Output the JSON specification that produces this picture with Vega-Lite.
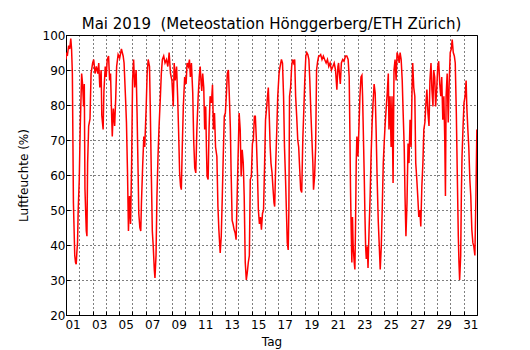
{
  "$schema": "https://vega.github.io/schema/vega-lite/v6.json",
  "width": 411,
  "height": 280,
  "autosize": "none",
  "padding": {"left": 66, "top": 35, "right": 53, "bottom": 35},
  "background": "white",
  "title": {"text": "Mai 2019 \u00a0(Meteostation Hönggerberg/ETH Zürich)", "fontSize": 15, "font": "DejaVu Sans", "fontWeight": "normal", "color": "black", "offset": -3, "anchor": "middle"},
  "config": {
    "view": {"stroke": "black", "strokeWidth": 1},
    "font": "DejaVu Sans",
    "axis": {"labelFont": "DejaVu Sans", "titleFont": "DejaVu Sans", "labelFontSize": 12, "titleFontSize": 12, "titleFontWeight": "normal", "labelColor": "black", "titleColor": "black", "domainColor": "black", "tickColor": "black", "gridColor": "black", "gridDash": [1, 3], "gridOpacity": 1, "gridWidth": 1}
  },
  "data": {"values": [
    {"d":1.00,"h":93},{"d":1.05,"h":95},{"d":1.10,"h":94},{"d":1.20,"h":97},{"d":1.28,"h":96},{"d":1.36,"h":99},{"d":1.42,"h":96},{"d":1.48,"h":89},{"d":1.56,"h":52},{"d":1.66,"h":37},{"d":1.72,"h":35},{"d":1.77,"h":34.5},{"d":1.82,"h":38},{"d":1.87,"h":40.6},{"d":1.92,"h":50},
    {"d":2.00,"h":58.7},{"d":2.07,"h":73},{"d":2.18,"h":89},{"d":2.25,"h":86},{"d":2.33,"h":79.6},{"d":2.38,"h":86},{"d":2.43,"h":56},{"d":2.53,"h":44},{"d":2.58,"h":42.5},{"d":2.63,"h":63.4},{"d":2.71,"h":74},{"d":2.81,"h":76},{"d":2.89,"h":89},
    {"d":3.01,"h":92},{"d":3.09,"h":93},{"d":3.19,"h":89},{"d":3.29,"h":91},{"d":3.40,"h":89},{"d":3.47,"h":92},{"d":3.55,"h":85},{"d":3.65,"h":90},{"d":3.70,"h":77},{"d":3.80,"h":73},{"d":3.86,"h":84},{"d":3.96,"h":91},
    {"d":4.03,"h":88},{"d":4.11,"h":93},{"d":4.21,"h":94},{"d":4.29,"h":87},{"d":4.36,"h":89},{"d":4.42,"h":80},{"d":4.49,"h":71},{"d":4.57,"h":79},{"d":4.67,"h":74},{"d":4.75,"h":82},{"d":4.82,"h":91},{"d":4.93,"h":94.4},
    {"d":5.05,"h":93.4},{"d":5.18,"h":96},{"d":5.31,"h":94},{"d":5.38,"h":92},{"d":5.49,"h":82},{"d":5.56,"h":75},{"d":5.64,"h":60.6},{"d":5.71,"h":44},{"d":5.79,"h":54},{"d":5.87,"h":46},{"d":5.95,"h":63.4},
    {"d":6.02,"h":87},{"d":6.10,"h":93},{"d":6.18,"h":85},{"d":6.29,"h":90},{"d":6.36,"h":77.7},{"d":6.44,"h":60.6},{"d":6.49,"h":49},{"d":6.57,"h":45},{"d":6.64,"h":44},{"d":6.69,"h":52},{"d":6.79,"h":63.4},{"d":6.87,"h":71},{"d":6.94,"h":68},
    {"d":7.05,"h":79.6},{"d":7.12,"h":89},{"d":7.20,"h":93},{"d":7.30,"h":91},{"d":7.35,"h":80.6},{"d":7.43,"h":61.5},{"d":7.51,"h":44},{"d":7.58,"h":39.6},{"d":7.66,"h":33},{"d":7.71,"h":30.6},{"d":7.79,"h":37},{"d":7.86,"h":54},{"d":7.94,"h":65.3},
    {"d":8.01,"h":73},{"d":8.12,"h":82.5},{"d":8.19,"h":89},{"d":8.27,"h":93},{"d":8.37,"h":94},{"d":8.47,"h":92},{"d":8.58,"h":93},{"d":8.68,"h":91},{"d":8.78,"h":95},{"d":8.88,"h":89},{"d":8.99,"h":87},
    {"d":9.09,"h":79.6},{"d":9.16,"h":92},{"d":9.24,"h":87},{"d":9.34,"h":91},{"d":9.42,"h":82.5},{"d":9.49,"h":73},{"d":9.57,"h":60.6},{"d":9.64,"h":56.8},{"d":9.70,"h":55.8},{"d":9.77,"h":68},{"d":9.85,"h":79.6},{"d":9.95,"h":88},
    {"d":10.06,"h":86},{"d":10.13,"h":92},{"d":10.23,"h":91},{"d":10.31,"h":93},{"d":10.38,"h":88},{"d":10.46,"h":92},{"d":10.56,"h":83.4},{"d":10.63,"h":70},{"d":10.71,"h":62},{"d":10.79,"h":60.6},{"d":10.87,"h":73},{"d":10.97,"h":82.5},
    {"d":11.05,"h":88},{"d":11.12,"h":91},{"d":11.18,"h":87},{"d":11.24,"h":84},{"d":11.31,"h":89},{"d":11.39,"h":85},{"d":11.46,"h":73},{"d":11.54,"h":79.6},{"d":11.59,"h":68},{"d":11.64,"h":59.6},{"d":11.72,"h":58.7},{"d":11.79,"h":73},{"d":11.87,"h":82.5},{"d":11.97,"h":80.6},
    {"d":12.05,"h":85.8},{"d":12.12,"h":73},{"d":12.20,"h":77.7},{"d":12.28,"h":68},{"d":12.38,"h":65.3},{"d":12.46,"h":51},{"d":12.53,"h":44.4},{"d":12.63,"h":37.7},{"d":12.71,"h":42.5},{"d":12.79,"h":54},{"d":12.86,"h":65.3},{"d":12.94,"h":76.8},
    {"d":13.02,"h":77.7},{"d":13.09,"h":82.5},{"d":13.17,"h":89},{"d":13.25,"h":90},{"d":13.32,"h":82.5},{"d":13.40,"h":73},{"d":13.45,"h":61.5},{"d":13.53,"h":47},{"d":13.60,"h":46},{"d":13.68,"h":44.4},{"d":13.76,"h":43.4},{"d":13.83,"h":41.5},{"d":13.91,"h":54},{"d":13.98,"h":65.3},
    {"d":14.06,"h":77.7},{"d":14.14,"h":73},{"d":14.21,"h":59.6},{"d":14.29,"h":67.2},{"d":14.37,"h":63.4},{"d":14.44,"h":54},{"d":14.52,"h":35},{"d":14.60,"h":30},{"d":14.67,"h":32},{"d":14.75,"h":35},{"d":14.83,"h":37},{"d":14.90,"h":58.7},{"d":14.98,"h":59.6},
    {"d":15.06,"h":69},{"d":15.13,"h":70},{"d":15.21,"h":76.8},{"d":15.28,"h":76.8},{"d":15.36,"h":70},{"d":15.44,"h":60.6},{"d":15.51,"h":50},{"d":15.59,"h":46},{"d":15.67,"h":48},{"d":15.74,"h":44.4},{"d":15.82,"h":49},{"d":15.90,"h":50},{"d":15.97,"h":61.5},
    {"d":16.05,"h":75.8},{"d":16.12,"h":78.7},{"d":16.20,"h":82.5},{"d":16.26,"h":85},{"d":16.33,"h":77},{"d":16.40,"h":68},{"d":16.46,"h":63.4},{"d":16.54,"h":60.6},{"d":16.62,"h":55.8},{"d":16.69,"h":52},{"d":16.74,"h":51},{"d":16.82,"h":63.4},{"d":16.90,"h":73},{"d":16.97,"h":82.5},
    {"d":17.07,"h":89},{"d":17.15,"h":91},{"d":17.25,"h":93},{"d":17.33,"h":92},{"d":17.41,"h":82.5},{"d":17.48,"h":68},{"d":17.56,"h":58.7},{"d":17.63,"h":49},{"d":17.69,"h":40.6},{"d":17.76,"h":38.6},{"d":17.81,"h":50},{"d":17.86,"h":82.5},{"d":17.94,"h":85},
    {"d":18.02,"h":91},{"d":18.09,"h":93},{"d":18.17,"h":92},{"d":18.25,"h":93},{"d":18.32,"h":82.5},{"d":18.40,"h":76.8},{"d":18.48,"h":70},{"d":18.55,"h":68},{"d":18.63,"h":61.5},{"d":18.70,"h":55.8},{"d":18.78,"h":55},{"d":18.86,"h":70},{"d":18.93,"h":77.7},
    {"d":19.01,"h":87},{"d":19.09,"h":94},{"d":19.16,"h":95},{"d":19.24,"h":94.4},{"d":19.32,"h":93},{"d":19.39,"h":87},{"d":19.47,"h":77.7},{"d":19.55,"h":70},{"d":19.62,"h":63.4},{"d":19.67,"h":55.8},{"d":19.75,"h":59.6},{"d":19.83,"h":68},{"d":19.90,"h":90},{"d":19.98,"h":92.5},
    {"d":20.06,"h":94},{"d":20.13,"h":94},{"d":20.21,"h":94.4},{"d":20.31,"h":93},{"d":20.41,"h":94},{"d":20.51,"h":93},{"d":20.62,"h":92},{"d":20.72,"h":93},{"d":20.82,"h":91},{"d":20.92,"h":92},
    {"d":21.02,"h":90},{"d":21.13,"h":91},{"d":21.23,"h":92},{"d":21.33,"h":90},{"d":21.43,"h":84.4},{"d":21.51,"h":91},{"d":21.56,"h":92},{"d":21.62,"h":89},{"d":21.69,"h":86},{"d":21.77,"h":92},{"d":21.87,"h":93},{"d":21.97,"h":92.5},
    {"d":22.08,"h":94},{"d":22.18,"h":94},{"d":22.28,"h":93},{"d":22.36,"h":88},{"d":22.41,"h":73},{"d":22.46,"h":55.8},{"d":22.51,"h":44.4},{"d":22.56,"h":35},{"d":22.61,"h":48},{"d":22.66,"h":39.6},{"d":22.74,"h":35},{"d":22.79,"h":33},{"d":22.84,"h":46},{"d":22.89,"h":63.4},{"d":22.94,"h":71},
    {"d":23.02,"h":65.3},{"d":23.09,"h":73},{"d":23.17,"h":82.5},{"d":23.25,"h":88},{"d":23.32,"h":88.5},{"d":23.37,"h":82.5},{"d":23.45,"h":68},{"d":23.50,"h":58.7},{"d":23.55,"h":48},{"d":23.60,"h":39.6},{"d":23.65,"h":36},{"d":23.73,"h":39.6},{"d":23.78,"h":33.4},{"d":23.86,"h":44.4},{"d":23.94,"h":54},
    {"d":24.01,"h":65.3},{"d":24.09,"h":75},{"d":24.16,"h":80.6},{"d":24.24,"h":86},{"d":24.32,"h":83.4},{"d":24.39,"h":73},{"d":24.47,"h":58.7},{"d":24.55,"h":47},{"d":24.62,"h":40.6},{"d":24.70,"h":33},{"d":24.78,"h":39.6},{"d":24.85,"h":50},{"d":24.93,"h":63.4},
    {"d":25.01,"h":70},{"d":25.08,"h":75},{"d":25.16,"h":79.6},{"d":25.23,"h":83.4},{"d":25.31,"h":89},{"d":25.36,"h":73},{"d":25.44,"h":82.5},{"d":25.52,"h":68},{"d":25.59,"h":82.5},{"d":25.67,"h":57.7},{"d":25.74,"h":90},{"d":25.82,"h":93},{"d":25.90,"h":87},{"d":25.97,"h":95},
    {"d":26.05,"h":94},{"d":26.13,"h":92},{"d":26.20,"h":95},{"d":26.28,"h":93},{"d":26.36,"h":87},{"d":26.43,"h":77.7},{"d":26.51,"h":68},{"d":26.57,"h":54},{"d":26.64,"h":42.5},{"d":26.72,"h":52},{"d":26.80,"h":69},{"d":26.87,"h":63.4},{"d":26.95,"h":75.8},
    {"d":27.03,"h":68},{"d":27.10,"h":84.4},{"d":27.15,"h":92},{"d":27.23,"h":85},{"d":27.31,"h":82.5},{"d":27.38,"h":63.4},{"d":27.46,"h":58.7},{"d":27.53,"h":54},{"d":27.61,"h":48},{"d":27.69,"h":50},{"d":27.76,"h":45.3},{"d":27.84,"h":56.8},{"d":27.92,"h":63.4},{"d":27.99,"h":73},
    {"d":28.07,"h":75},{"d":28.15,"h":80.6},{"d":28.22,"h":84.4},{"d":28.30,"h":77.7},{"d":28.38,"h":74},{"d":28.45,"h":87},{"d":28.53,"h":92},{"d":28.60,"h":84.4},{"d":28.68,"h":79.6},{"d":28.73,"h":90},{"d":28.81,"h":88},{"d":28.88,"h":79.6},{"d":28.96,"h":84.4},
    {"d":29.04,"h":91},{"d":29.11,"h":92.5},{"d":29.19,"h":86},{"d":29.27,"h":82.5},{"d":29.34,"h":88},{"d":29.42,"h":75.8},{"d":29.50,"h":82.5},{"d":29.57,"h":70},{"d":29.62,"h":54},{"d":29.67,"h":82.5},{"d":29.75,"h":89},{"d":29.83,"h":75},{"d":29.90,"h":86},{"d":29.98,"h":95},
    {"d":30.06,"h":96},{"d":30.13,"h":98.7},{"d":30.21,"h":95},{"d":30.29,"h":94},{"d":30.36,"h":92},{"d":30.44,"h":77.7},{"d":30.52,"h":58.7},{"d":30.59,"h":42.5},{"d":30.64,"h":35},{"d":30.69,"h":30},{"d":30.77,"h":37},{"d":30.82,"h":54},{"d":30.87,"h":65.3},{"d":30.95,"h":74},
    {"d":31.02,"h":80.6},{"d":31.10,"h":82.5},{"d":31.18,"h":87},{"d":31.23,"h":79.6},{"d":31.31,"h":73},{"d":31.38,"h":68},{"d":31.46,"h":58.7},{"d":31.53,"h":54},{"d":31.61,"h":44.4},{"d":31.69,"h":40.6},{"d":31.76,"h":39.6},{"d":31.84,"h":37},{"d":31.92,"h":54},{"d":31.99,"h":73}
  ]},
  "mark": {"type": "line", "color": "#ff0000", "strokeWidth": 1.5, "clip": true},
  "encoding": {
    "x": {
      "field": "d", "type": "quantitative",
      "scale": {"domain": [1, 32], "nice": false, "zero": false},
      "axis": {
        "title": "Tag",
        "values": [1,2,3,4,5,6,7,8,9,10,11,12,13,14,15,16,17,18,19,20,21,22,23,24,25,26,27,28,29,30,31,32],
        "labelExpr": "(datum.value % 2 == 1 && datum.value < 32) ? (datum.value < 10 ? '0' + datum.value : '' + datum.value) : ''",
        "labelOffset": 6.63,
        "labelOverlap": false,
        "labelFlush": false,
        "labelBound": false,
        "grid": true,
        "tickSize": -4,
        "labelPadding": 8,
        "titlePadding": 6
      }
    },
    "y": {
      "field": "h", "type": "quantitative",
      "scale": {"domain": [20, 100], "nice": false, "zero": false},
      "axis": {
        "title": "Luftfeuchte (%)",
        "values": [20, 30, 40, 50, 60, 70, 80, 90, 100],
        "grid": true,
        "tickSize": -4,
        "labelPadding": 5,
        "titlePadding": 12
      }
    }
  }
}
